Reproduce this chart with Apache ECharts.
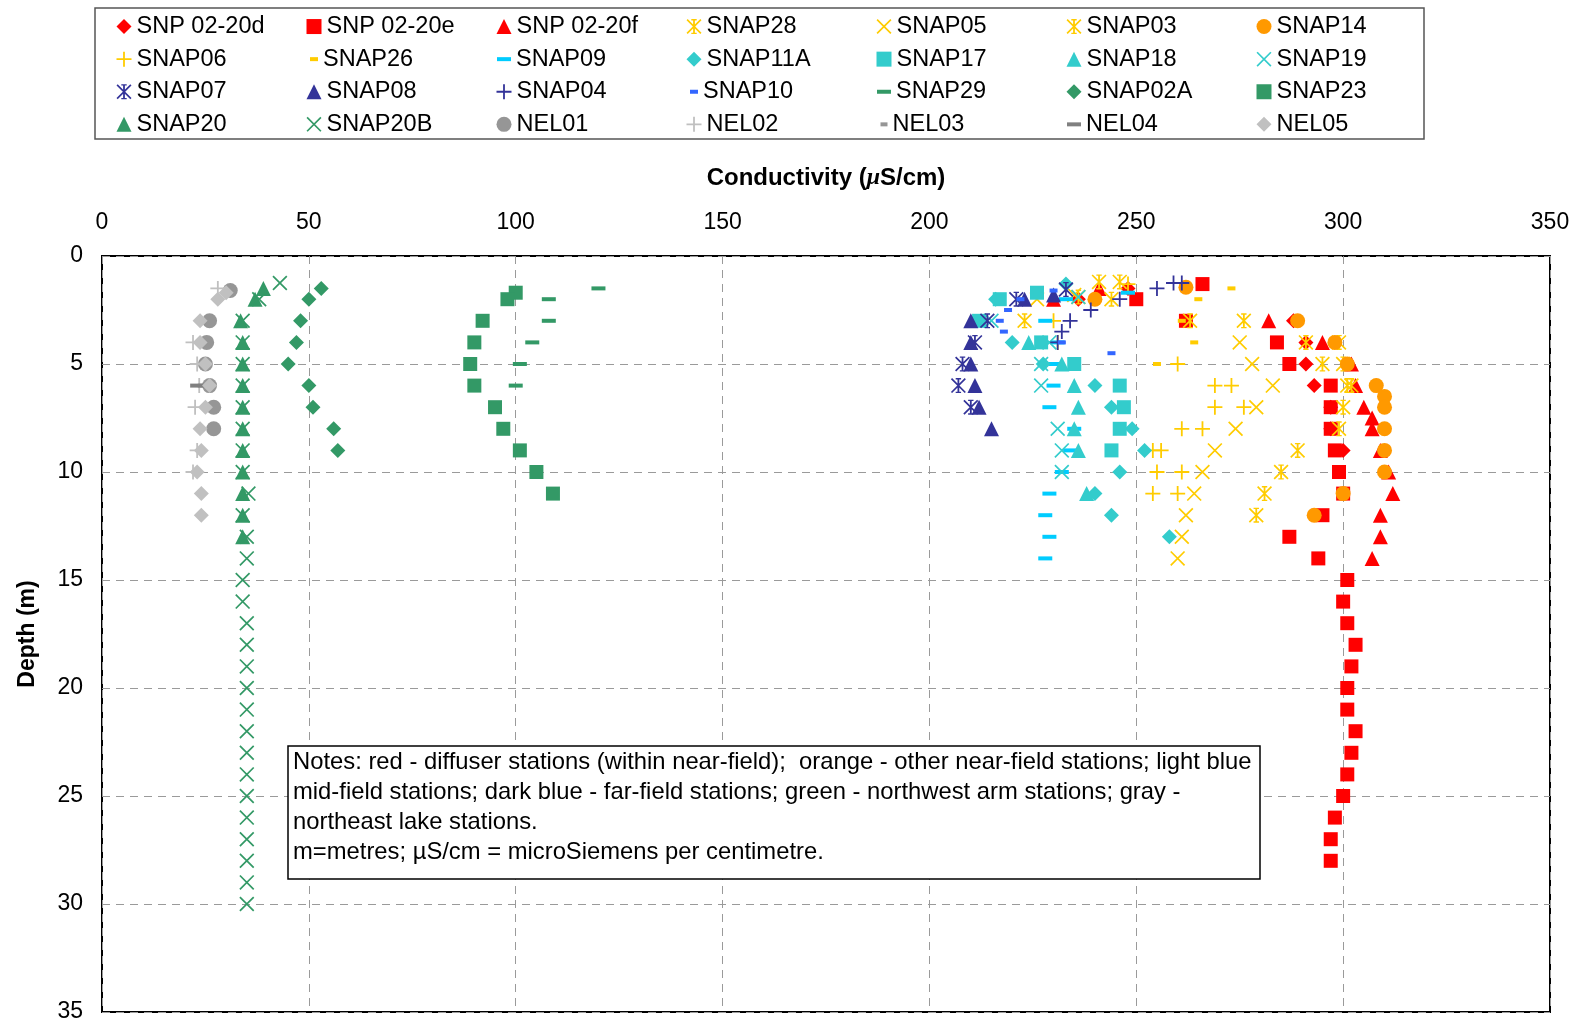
<!DOCTYPE html>
<html>
<head>
<meta charset="utf-8">
<title>Conductivity profiles</title>
<script src="https://cdn.jsdelivr.net/npm/echarts@6/dist/echarts.min.js"></script>
<style>
  html, body { margin: 0; padding: 0; background: #fff; }
  #chart { width: 1581px; height: 1024px; }
</style>
</head>
<body>
<div id="chart"></div>
<script>
// each point: [conductivity (uS/cm), depth (m)]
const snp0220d = [[248, 1.5], [236, 2], [288, 3], [291, 4], [291, 5], [293, 6], [297, 7], [297, 8], [300, 9]]
const snp0220e = [[266, 1.3], [250, 2], [262, 3], [284, 4], [287, 5], [297, 6], [297, 7], [297, 8], [298, 9], [299, 10],
  [300, 11], [295, 12], [287, 13], [294, 14], [301, 15], [300, 16], [301, 17], [303, 18], [302, 19], [301, 20],
  [301, 21], [303, 22], [302, 23], [301, 24], [300, 25], [298, 26], [297, 27], [297, 28]]
const snp0220f = [[241, 1.5], [230, 2], [282, 3], [295, 4], [302, 5], [303, 6], [305, 7], [307, 7.5], [307, 8],
  [309, 9], [311, 10], [312, 11], [309, 12], [309, 13], [307, 14]]
const snap28 = [[241, 1.2], [236, 1.9], [223, 3], [276, 3], [299, 4], [300, 5], [302, 6]]
const snap05 = [[235, 1.8], [226, 2], [275, 4], [278, 5], [283, 6], [279, 7], [274, 8], [269, 9], [266, 10],
  [264, 11], [262, 12], [261, 13], [260, 14]]
const snap03 = [[246, 1.2], [244, 2], [263, 3], [291, 4], [295, 5], [301, 6], [300, 7], [299, 8], [289, 9],
  [285, 10], [281, 11], [279, 12]]
const snap14 = [[262, 1.45], [240, 2], [289, 3], [298, 4], [301, 5], [308, 6], [310, 6.5], [310, 7], [310, 8],
  [310, 9], [310, 10], [300, 11], [293, 12]]
const snap06 = [[248, 1.3], [230, 3], [231, 4], [260, 5], [269, 6], [273, 6], [269, 7], [276, 7], [261, 8],
  [266, 8], [254, 9], [256, 9], [255, 10], [261, 10], [254, 11], [260, 11]]
const snap26 = [[273, 1.5], [265, 2], [261, 3], [264, 4], [255, 5]]
const snap09 = [[248, 1.7], [233, 2], [228, 3], [231, 4], [230.5, 5], [230, 6], [229, 7], [235, 8], [234, 9],
  [232, 10], [229, 11], [228, 12], [229, 13], [228, 14]]
const snap11a = [[233, 1.3], [216, 2], [220, 4], [227.5, 5], [240, 6], [244, 7], [249, 8], [252, 9], [246, 10],
  [240, 11], [244, 12], [258, 13]]
const snap17 = [[226, 1.7], [217, 2], [212, 3], [227, 4], [235, 5], [246, 6], [247, 7], [246, 8], [244, 9]]
const snap18 = [[224, 4], [232, 5], [235, 6], [236, 7], [235, 8], [236, 9], [238, 11]]
const snap19 = [[236, 1.9], [215, 3], [229, 4], [227, 5], [227, 6], [231, 8], [232, 9], [232, 10]]
const snap07 = [[233, 1.55], [221, 2], [214, 3], [211, 4], [208, 5], [207, 6], [210, 7]]
const snap08 = [[230, 1.8], [223, 2], [210, 3], [210, 4], [210, 5], [211, 6], [212, 7], [215, 8]]
const snap04 = [[259, 1.25], [261, 1.25], [255, 1.5], [246, 2], [239, 2.5], [234, 3], [232, 3.5], [231, 4]]
const snap10 = [[230, 1.6], [222, 2], [219, 2.5], [217, 3], [218, 3.5], [232, 4], [244, 4.5]]
const snap29 = [[120, 1.5], [108, 2], [108, 3], [104, 4], [101, 5], [100, 6]]
const snap02a = [[53, 1.5], [50, 2], [48, 3], [47, 4], [45, 5], [50, 6], [51, 7], [56, 8], [57, 9]]
const snap23 = [[100, 1.7], [98, 2], [92, 3], [90, 4], [89, 5], [90, 6], [95, 7], [97, 8], [101, 9], [105, 10], [109, 11]]
const snap20 = [[39, 1.5], [37, 2], [33.5, 3], [34, 4], [34, 5], [34, 6], [34, 7], [34, 8], [34, 9], [34, 10],
  [34, 11], [34, 12], [34, 13]]
const snap20b = [[43, 1.25], [38, 2], [34, 3], [34, 4], [34, 5], [34, 6], [34, 7], [34, 8], [34, 9], [34, 10],
  [35.4, 11], [34, 12], [35, 13], [35, 14], [34, 15], [34, 16], [35, 17], [35, 18], [35, 19], [35, 20], [35, 21],
  [35, 22], [35, 23], [35, 24], [35, 25], [35, 26], [35, 27], [35, 28], [35, 29], [35, 30]]
const nel01 = [[31, 1.6], [26, 3], [25.3, 4], [25, 5], [26, 6], [27, 7], [27, 8]]
const nel02 = [[28, 1.5], [22, 4], [23, 5], [23.5, 6], [22.5, 7], [23, 9], [22, 10]]
const nel03 = [[24, 6]]
const nel04 = [[23, 6]]
const nel05 = [[30, 1.7], [28, 2], [23.7, 3], [23.7, 4], [25, 5], [26, 6], [25, 7], [23.7, 8], [24, 9], [23, 10],
  [24, 11], [24, 12]]

const xTicks = { min: 0, max: 350, step: 50 }
const yTicks = { min: 0, max: 35, step: 5 }

const notesLines = [
  'Notes: red - diffuser stations (within near-field);  orange - other near-field stations; light blue',
  'mid-field stations; dark blue - far-field stations; green - northwest arm stations; gray -',
  'northeast lake stations.',
  'm=metres; µS/cm = microSiemens per centimetre.'
]

const FONT = 'Liberation Sans, Arial, sans-serif'

// marker shapes (100x100 boxes)
const X_PATH = 'path://M8,0 L100,92 L92,100 L0,8 Z M92,0 L100,8 L8,100 L0,92 Z'
const PLUS_PATH = 'path://M44,0 L56,0 L56,44 L100,44 L100,56 L56,56 L56,100 L44,100 L44,56 L0,56 L0,44 L44,44 Z'
const STAR_PATH = X_PATH + ' M44,0 L56,0 L56,100 L44,100 Z M32,0 L68,0 L68,9 L32,9 Z M32,91 L68,91 L68,100 L32,100 Z'

const RED = '#FF0000'
const YELLOW = '#FFCC00'
const ORANGE = '#FF9900'
const TEAL = '#33CCCC'
const NAVY = '#333399'
const GREEN = '#339966'

const stations = [
  { name: 'SNP 02-20d', data: snp0220d, symbol: 'diamond', size: 15, color: RED },
  { name: 'SNP 02-20e', data: snp0220e, symbol: 'rect', size: 14, color: RED },
  { name: 'SNP 02-20f', data: snp0220f, symbol: 'triangle', size: 15, color: RED },
  { name: 'SNAP28', data: snap28, symbol: STAR_PATH, size: 15, color: YELLOW },
  { name: 'SNAP05', data: snap05, symbol: X_PATH, size: 15, color: YELLOW },
  { name: 'SNAP03', data: snap03, symbol: STAR_PATH, size: 15, color: YELLOW },
  { name: 'SNAP14', data: snap14, symbol: 'circle', size: 15, color: ORANGE },
  { name: 'SNAP06', data: snap06, symbol: PLUS_PATH, size: 15, color: YELLOW },
  { name: 'SNAP26', data: snap26, symbol: 'rect', size: [8, 4], color: YELLOW },
  { name: 'SNAP09', data: snap09, symbol: 'rect', size: [14, 4], color: '#00CCFF' },
  { name: 'SNAP11A', data: snap11a, symbol: 'diamond', size: 15, color: TEAL },
  { name: 'SNAP17', data: snap17, symbol: 'rect', size: 14, color: TEAL },
  { name: 'SNAP18', data: snap18, symbol: 'triangle', size: 15, color: TEAL },
  { name: 'SNAP19', data: snap19, symbol: X_PATH, size: 15, color: TEAL },
  { name: 'SNAP07', data: snap07, symbol: STAR_PATH, size: 15, color: NAVY },
  { name: 'SNAP08', data: snap08, symbol: 'triangle', size: 15, color: NAVY },
  { name: 'SNAP04', data: snap04, symbol: PLUS_PATH, size: 15, color: NAVY },
  { name: 'SNAP10', data: snap10, symbol: 'rect', size: [8, 4], color: '#3366FF' },
  { name: 'SNAP29', data: snap29, symbol: 'rect', size: [14, 4], color: GREEN },
  { name: 'SNAP02A', data: snap02a, symbol: 'diamond', size: 15, color: GREEN },
  { name: 'SNAP23', data: snap23, symbol: 'rect', size: 14, color: GREEN },
  { name: 'SNAP20', data: snap20, symbol: 'triangle', size: 15, color: GREEN },
  { name: 'SNAP20B', data: snap20b, symbol: X_PATH, size: 15, color: GREEN },
  { name: 'NEL01', data: nel01, symbol: 'circle', size: 15, color: '#969696' },
  { name: 'NEL02', data: nel02, symbol: PLUS_PATH, size: 15, color: '#C0C0C0' },
  { name: 'NEL03', data: nel03, symbol: 'rect', size: [7, 4], color: '#969696' },
  { name: 'NEL04', data: nel04, symbol: 'rect', size: [14, 4], color: '#808080' },
  { name: 'NEL05', data: nel05, symbol: 'diamond', size: 15, color: '#C0C0C0' }
]

function buildLegends() {
  return stations.map((s, i) => {
    const col = i % 7
    const row = Math.floor(i / 7)
    const [w, h] = Array.isArray(s.size) ? s.size : [15, 15]
    const cx = 124 + col * 190
    const cy = 26.3 + row * 32.6
    return {
      data: [s.name],
      left: cx - w / 2,
      top: cy - 11.75,
      itemWidth: w,
      itemHeight: h,
      padding: 0,
      selectedMode: false,
      textStyle: { fontSize: 23.5, fontFamily: FONT, color: '#000' }
    }
  })
}

function buildSeries() {
  return stations.map((s) => ({
    name: s.name,
    type: 'scatter',
    data: s.data,
    symbol: s.symbol,
    symbolSize: s.size,
    itemStyle: { color: s.color, opacity: 1 },
    emphasis: { disabled: true },
    silent: true
  }))
}

const chart = echarts.init(document.getElementById('chart'), null, { renderer: 'canvas' })

chart.setOption({
  animation: false,
  backgroundColor: '#fff',
  textStyle: { fontFamily: FONT },
  legend: buildLegends(),
  grid: {
    left: 102,
    right: 31,
    top: 256,
    bottom: 12,
    show: true,
    borderColor: '#000',
    borderWidth: 2,
    backgroundColor: 'transparent'
  },
  xAxis: {
    type: 'value',
    position: 'top',
    min: xTicks.min,
    max: xTicks.max,
    interval: xTicks.step,
    name: '{b|Conductivity (}{m|μ}{b|S/cm)}',
    nameLocation: 'middle',
    nameGap: 66,
    nameTextStyle: {
      rich: {
        b: { fontSize: 24, fontWeight: 'bold', fontFamily: FONT, color: '#000' },
        m: { fontSize: 24, fontWeight: 'bold', fontStyle: 'italic', fontFamily: 'Liberation Serif, serif', color: '#000' }
      }
    },
    axisLine: { show: false },
    axisTick: { show: false },
    axisLabel: { fontSize: 23, color: '#000', margin: 22, fontFamily: FONT },
    splitLine: { show: true, lineStyle: { color: '#9a9a9a', width: 1, type: [8, 6] } }
  },
  yAxis: {
    type: 'value',
    inverse: true,
    min: yTicks.min,
    max: yTicks.max,
    interval: yTicks.step,
    name: 'Depth (m)',
    nameLocation: 'middle',
    nameGap: 63,
    nameRotate: 90,
    nameTextStyle: { fontSize: 23, fontWeight: 'bold', color: '#000', fontFamily: FONT },
    axisLine: { show: false },
    axisTick: { show: false },
    axisLabel: { fontSize: 23, color: '#000', margin: 19, fontFamily: FONT },
    splitLine: { show: true, lineStyle: { color: '#9a9a9a', width: 1, type: [8, 6] } }
  },
  graphic: [
    {
      type: 'rect',
      z: 100,
      shape: { x: 95, y: 8, width: 1329, height: 131 },
      style: { fill: 'none', stroke: '#555', lineWidth: 1.5 }
    },
    {
      type: 'rect',
      z: 100,
      shape: { x: 288, y: 746, width: 972, height: 133 },
      style: { fill: '#fff', stroke: '#000', lineWidth: 1.5 }
    },
    {
      type: 'text',
      z: 101,
      x: 293,
      y: 748,
      style: {
        text: notesLines.join('\n'),
        fontSize: 23.8,
        fontFamily: FONT,
        lineHeight: 29.7,
        fill: '#000'
      }
    }
  ],
  series: buildSeries()
})
</script>
</body>
</html>
